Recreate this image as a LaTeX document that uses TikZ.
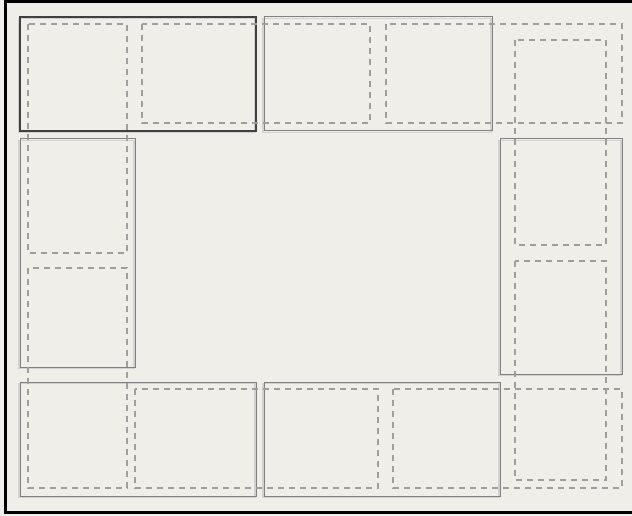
\documentclass[tikz,border=0pt]{standalone}
\definecolor{panelbg}{HTML}{EFEEE8}
\begin{document}
\begin{tikzpicture}[x=1pt,y=-1pt,
  solidbox/.style={draw=black!50, line width=1pt},
  activebox/.style={draw=black!75, line width=1.1pt},
  boxshadow/.style={draw=black!18, line width=1.6pt},
  ghostbox/.style={draw=black!38, line width=1.3pt, dash pattern=on 6pt off 5pt}]
\useasboundingbox (0,0) rectangle (632,516);
\clip (0,0) rectangle (632,516);
\fill[panelbg] (0,0) rectangle (632,516);
\draw[line width=3pt] (640,2) -- (5,2) -- (5,512) -- (640,512);
% docked panels
\foreach \xa/\ya/\xb/\yb in {264/17/492/131, 20/139/135/367, 500/139/622/374,
  20/382/256/496, 264/382/500/496}{
  \draw[boxshadow] (\xa-1,\ya+1.5) rectangle (\xb-1,\yb+1.5);
  \draw[solidbox] (\xa,\ya) rectangle (\xb,\yb);
}
\draw[boxshadow] (19,18.5) rectangle (255,132.5);
\draw[activebox] (20,17) rectangle (256,131);
% drop targets
\foreach \xa/\ya/\xb/\yb in {28/24/127/253, 142/24/370/123, 386/24/622/123,
  515/40/606/245, 515/261/606/480, 393/389/622/488, 135/389/378/488,
  28/268/127/488}{
  \draw[ghostbox] (\xa,\ya) rectangle (\xb,\yb);
}
\end{tikzpicture}
\end{document}
